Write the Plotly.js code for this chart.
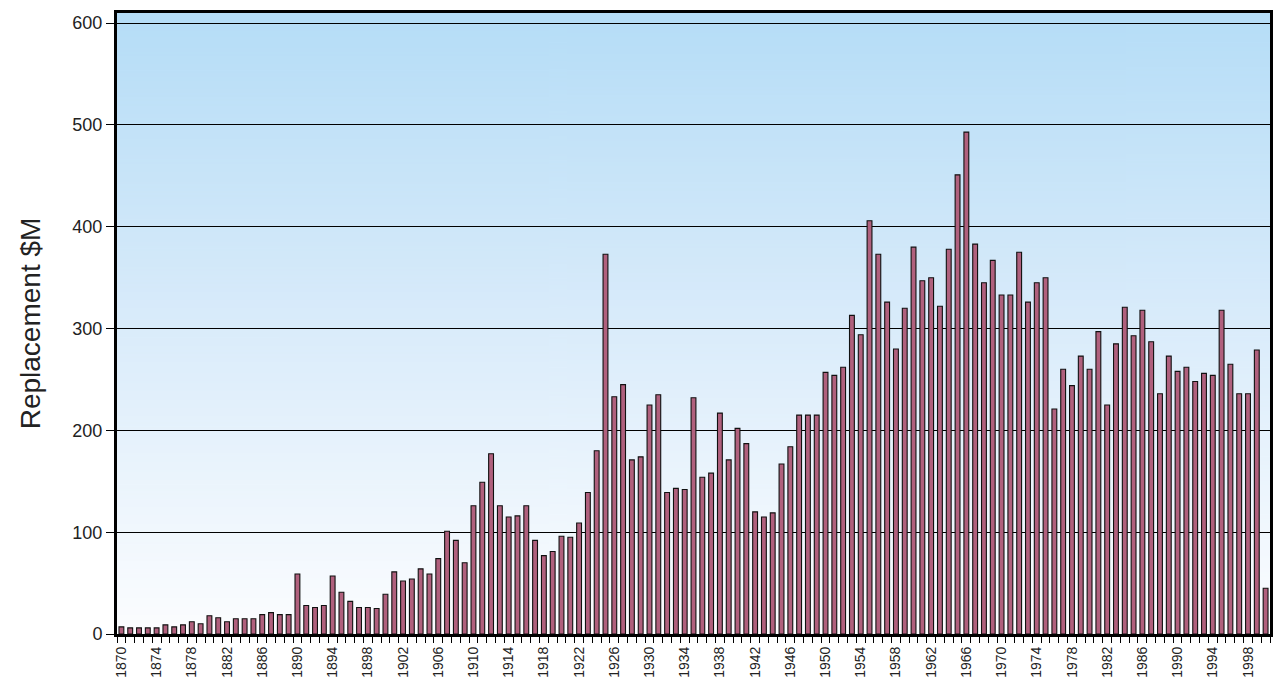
<!DOCTYPE html>
<html>
<head>
<meta charset="utf-8">
<script src="https://cdn.plot.ly/plotly-3.0.1.min.js"></script>
<style>
  html, body { margin: 0; padding: 0; background: #ffffff; }
  #chart { width: 1274px; height: 679px; }
</style>
</head>
<body>
<div id="chart"></div>
<script>
// Years 1870..2000 (one bar per year)
const years = [
  1870,1871,1872,1873,1874,1875,1876,1877,1878,1879,
  1880,1881,1882,1883,1884,1885,1886,1887,1888,1889,
  1890,1891,1892,1893,1894,1895,1896,1897,1898,1899,
  1900,1901,1902,1903,1904,1905,1906,1907,1908,1909,
  1910,1911,1912,1913,1914,1915,1916,1917,1918,1919,
  1920,1921,1922,1923,1924,1925,1926,1927,1928,1929,
  1930,1931,1932,1933,1934,1935,1936,1937,1938,1939,
  1940,1941,1942,1943,1944,1945,1946,1947,1948,1949,
  1950,1951,1952,1953,1954,1955,1956,1957,1958,1959,
  1960,1961,1962,1963,1964,1965,1966,1967,1968,1969,
  1970,1971,1972,1973,1974,1975,1976,1977,1978,1979,
  1980,1981,1982,1983,1984,1985,1986,1987,1988,1989,
  1990,1991,1992,1993,1994,1995,1996,1997,1998,1999,
  2000
];

// Replacement value, $M
const replacement = [
  7,6,6,6,6,9,7,9,12,10,
  18,16,12,15,15,15,19,21,19,19,
  59,28,26,28,57,41,32,26,26,25,
  39,61,52,54,64,59,74,101,92,70,
  126,149,177,126,115,116,126,92,77,81,
  96,95,109,139,180,373,233,245,171,174,
  225,235,139,143,142,232,154,158,217,171,
  202,187,120,115,119,167,184,215,215,215,
  257,254,262,313,294,406,373,326,280,320,
  380,347,350,322,378,451,493,383,345,367,
  333,333,375,326,345,350,221,260,244,273,
  260,297,225,285,321,293,318,287,236,273,
  258,262,248,256,254,318,265,236,236,279,
  45
];

// Tick labels on the year axis
const tickYears = [1870,1874,1878,1882,1886,1890,1894,1898,1902,1906,1910,1914,1918,1922,
  1926,1930,1934,1938,1942,1946,1950,1954,1958,1962,1966,1970,1974,1978,1982,1986,1990,1994,1998];
const tickLabels = tickYears.map(String);
const yTicks = [0,100,200,300,400,500,600];

// gradient background image (drawn locally)
function gradientURL() {
  const c = document.createElement('canvas');
  c.width = 4; c.height = 600;
  const ctx = c.getContext('2d');
  const g = ctx.createLinearGradient(0, 0, 0, 600);
  g.addColorStop(0, '#b5ddf7');
  g.addColorStop(0.45, '#d6eafa');
  g.addColorStop(1, '#fcfdff');
  ctx.fillStyle = g;
  ctx.fillRect(0, 0, 4, 600);
  return c.toDataURL('image/png');
}

const trace = {
  type: 'bar',
  x: years,
  y: replacement,
  width: 0.55,
  marker: { color: '#b0607d', line: { color: '#111111', width: 1.1 } },
  hoverinfo: 'x+y'
};

const layout = {
  width: 1274,
  height: 679,
  margin: { l: 117, r: 4, t: 13, b: 45 },
  paper_bgcolor: '#ffffff',
  plot_bgcolor: 'rgba(0,0,0,0)',
  font: { family: 'Liberation Sans, Arial, sans-serif', color: '#222222' },
  showlegend: false,
  images: [{
    source: gradientURL(),
    xref: 'paper', yref: 'paper',
    x: 0, y: 1, sizex: 1, sizey: 1,
    sizing: 'stretch', layer: 'below',
    xanchor: 'left', yanchor: 'top'
  }],
  xaxis: {
    range: [1869.5, 2000.5],
    tickmode: 'array',
    tickvals: tickYears,
    ticktext: tickLabels,
    tickangle: -90,
    ticks: '',
    ticklabelstandoff: 4,
    tickfont: { size: 14, color: '#222222' },
    showgrid: false,
    zeroline: false,
    showline: true,
    linecolor: '#000000',
    linewidth: 3,
    mirror: true,
    minor: { ticks: 'outside', ticklen: 6, tickcolor: '#000000', tickwidth: 1, tick0: 1869.5, dtick: 1, showgrid: false },
    automargin: false
  },
  yaxis: {
    range: [0, 610],
    tickmode: 'array',
    tickvals: yTicks,
    ticktext: yTicks.map(String),
    ticks: 'outside',
    ticklen: 8,
    tickcolor: '#000000',
    tickfont: { size: 18, color: '#222222' },
    showgrid: true,
    gridcolor: '#000000',
    gridwidth: 1,
    zeroline: false,
    showline: true,
    linecolor: '#000000',
    linewidth: 3,
    mirror: true,
    title: { text: 'Replacement $M', font: { size: 28, color: '#222222' }, standoff: 24 },
    automargin: false
  }
};

Plotly.newPlot('chart', [trace], layout, { displayModeBar: false, staticPlot: true });
</script>
</body>
</html>
